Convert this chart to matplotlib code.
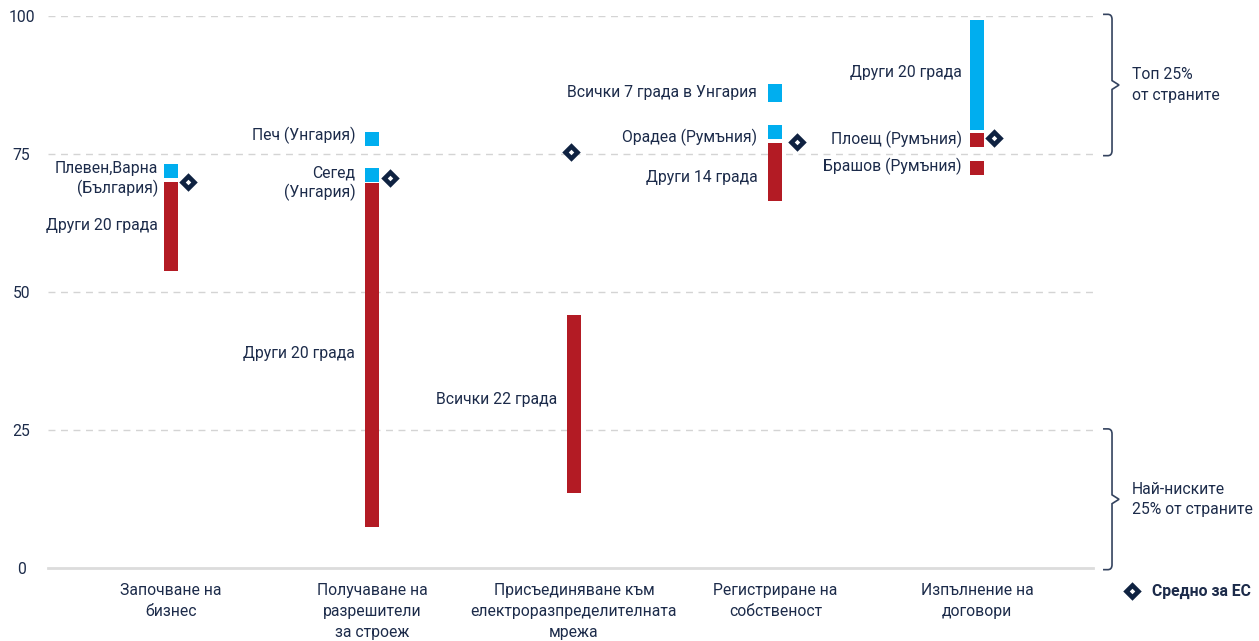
import numpy as np
import matplotlib
matplotlib.use("Agg")
import matplotlib.pyplot as plt
from matplotlib.path import Path
from matplotlib.patches import PathPatch
from matplotlib.transforms import blended_transform_factory

plt.rcParams['font.family'] = ['Roboto', 'DejaVu Sans']

# categories (x axis)
categories = ["Започване на\nбизнес",
              "Получаване на\nразрешители\nза строеж",
              "Присъединяване към\nелектроразпределителната\nмрежа",
              "Регистриране на\nсобственост",
              "Изпълнение на\nдоговори"]

# EU average per category
eu_avg = [69.9, 70.6, 75.4, 77.2, 77.9]

# city groups: category index, range low/high, colour group, label
seg_cat = [0, 0, 1, 1, 1, 2, 3, 3, 3, 4, 4, 4]
seg_low = [70.7, 53.8, 76.4, 69.9, 7.5, 13.6, 84.4, 77.7, 66.5, 79.3, 76.3, 71.2]
seg_high = [73.2, 69.9, 79.0, 72.5, 69.7, 45.8, 87.7, 80.3, 77.0, 99.3, 78.8, 73.7]
seg_group = ["blue", "red", "blue", "blue", "red", "red", "blue", "blue", "red", "blue", "red", "red"]
seg_label = ["Плевен,Варна\n(България)", "Други 20 града",
             "Печ (Унгария)", "Сегед\n(Унгария)", "Други 20 града",
             "Всички 22 града",
             "Всички 7 града в Унгария", "Орадеа (Румъния)", "Други 14 града",
             "Други 20 града", "Плоещ (Румъния)", "Брашов (Румъния)"]

yticks = [0, 25, 50, 75, 100]

# layout (label heights, marker offsets)
label_y = [70.5, 62.1, 78.3, 69.7, 38.9, 30.6, 86.2, 78.1, 70.7, 89.7, 77.7, 72.8]
label_gap = [0.03, 0.03, 0.05, 0.05, 0.05, 0.05, 0.055, 0.055, 0.055, 0.04, 0.04, 0.04]
avg_dx = [0.085, 0.085, -0.015, 0.108, 0.085]

RED = "#b31b24"
BLUE = "#00aeef"
NAVY = "#0f2241"
TXT = "#1c2b4a"
colors = {"red": RED, "blue": BLUE}
FS = 11.3

W, H = 1259, 641
fig = plt.figure(figsize=(W / 100, H / 100), dpi=100)
ax = fig.add_axes([48 / W, (H - 568) / H, (1093 - 48) / W, (568 - 16) / H])

bar_w = 0.07
for c, lo, hi, g, lab, ly, gap in zip(seg_cat, seg_low, seg_high, seg_group,
                                      seg_label, label_y, label_gap):
    ax.bar(c, hi - lo, bottom=lo, width=bar_w, color=colors[g], zorder=3)
    ax.text(c - bar_w / 2 - gap, ly, lab, ha="right", va="center",
            multialignment="right", fontsize=FS, color=TXT, linespacing=1.3)

xs = np.arange(len(categories)) + np.array(avg_dx)
ax.plot(xs, eu_avg, ls="none", marker="D", ms=5.9, mfc="white", mec=NAVY,
        mew=3.3, zorder=4)

ax.set_xlim(-0.610, 4.576)
ax.set_ylim(0, 100)
for y in yticks[1:]:
    ax.axhline(y, color="#d4d4d4", lw=1.0, ls=(0, (5, 4)), zorder=1)
ax.axhline(0, color="#dcdcdc", lw=2.0, zorder=2, clip_on=False)

for s in ax.spines.values():
    s.set_visible(False)
ax.set_xticks(range(len(categories)))
ax.set_xticklabels(categories, fontsize=FS, color=TXT, linespacing=1.5)
ax.set_yticks(yticks)
ax.set_yticklabels([str(v) for v in yticks], fontsize=FS, color=TXT, ha="center")
ax.tick_params(axis="x", length=0, pad=11)
ax.tick_params(axis="y", length=0, pad=19)

# braces on the right
tr = blended_transform_factory(ax.transAxes, ax.transData)


def brace(y_top, y_bot):
    xl, xv, xt = 1.0096, 1.0182, 1.0249
    rx, ry, t = 0.004, 0.9, 0.8
    ym = (y_top + y_bot) / 2
    verts = [(xl, y_top), (xv - rx, y_top), (xv, y_top), (xv, y_top - ry),
             (xv, ym + t), (xt, ym), (xv, ym - t),
             (xv, y_bot + ry), (xv, y_bot), (xv - rx, y_bot), (xl, y_bot)]
    codes = [Path.MOVETO, Path.LINETO, Path.CURVE3, Path.CURVE3,
             Path.LINETO, Path.LINETO, Path.LINETO,
             Path.LINETO, Path.CURVE3, Path.CURVE3, Path.LINETO]
    ax.add_patch(PathPatch(Path(verts, codes), transform=tr, fill=False,
                           ec="#34435f", lw=1.2, clip_on=False))
    return ym


m1 = brace(100.3, 74.7)
ax.text(1.0373, m1, "Топ 25%\nот страните", transform=tr, ha="left", va="center",
        fontsize=FS, color=TXT, linespacing=1.45)
m2 = brace(25.2, -0.3)
ax.text(1.0373, m2, "Най-ниските\n25% от страните", transform=tr, ha="left", va="center",
        fontsize=FS, color=TXT, linespacing=1.45)

# legend
ax.plot([1.037], [-4.2], transform=tr, ls="none", marker="D", ms=5.9, mfc="white",
        mec=NAVY, mew=3.3, clip_on=False)
ax.text(1.0565, -4.2, "Средно за ЕС", transform=tr, ha="left", va="center",
        fontsize=FS, fontweight="bold", color=TXT)

fig.savefig("out.png", dpi=100)
